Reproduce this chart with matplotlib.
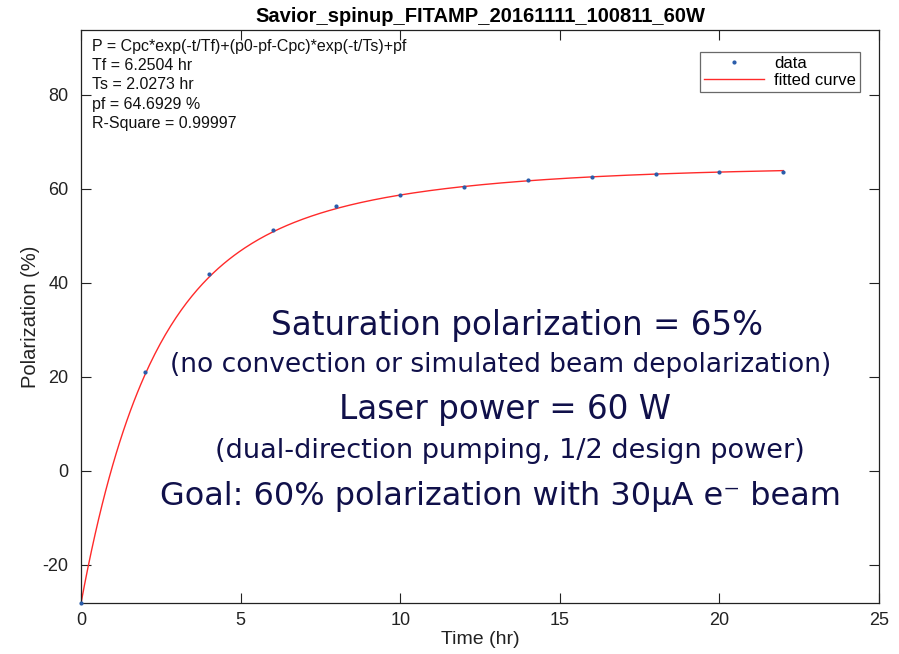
import numpy as np
import matplotlib
matplotlib.use("Agg")
import matplotlib.pyplot as plt

# ---- data ----
time_hr = [0, 2, 4, 6, 8, 10, 12, 14, 16, 18, 20, 22]
polarization = [-28.2, 21.0, 41.9, 51.2, 56.4, 58.7, 60.4, 61.8, 62.6, 63.2, 63.5, 63.6]

# fit parameters (shown on the chart / estimated)
Tf = 6.2504
Ts = 2.0273
pf = 64.6929
Cpc = -27.4
p0 = -28.2
r_square = 0.99997

title = "Savior_spinup_FITAMP_20161111_100811_60W"
xticks = [0, 5, 10, 15, 20, 25]
yticks = [-20, 0, 20, 40, 60, 80]

fit_lines = [
    "P = Cpc*exp(-t/Tf)+(p0-pf-Cpc)*exp(-t/Ts)+pf",
    f"Tf = {Tf:.4f} hr",
    f"Ts = {Ts:.4f} hr",
    f"pf = {pf:.4f} %",
    f"R-Square = {r_square}",
]
notes = [
    "Saturation polarization = 65%",
    "(no convection or simulated beam depolarization)",
    "Laser power = 60 W",
    "(dual-direction pumping, 1/2 design power)",
    "Goal: 60% polarization with 30\u03bcA e\u207b beam",
]

plt.rcParams['font.family'] = ['Liberation Sans', 'DejaVu Sans']
plt.rcParams['axes.unicode_minus'] = False

fig = plt.figure(figsize=(8.99, 6.54), dpi=100)
ax = fig.add_axes([0.0901, 0.0775, 0.8877, 0.8766])

t_fit = np.linspace(0, max(time_hr), 400)
p_fit = Cpc * np.exp(-t_fit / Tf) + (p0 - pf - Cpc) * np.exp(-t_fit / Ts) + pf

ax.plot(time_hr, polarization, linestyle='none', marker='.', markersize=4,
        color='#2a5caa', label='data', clip_on=False, zorder=3)
ax.plot(t_fit, p_fit, color='#ff2a2a', linewidth=1.0, label='fitted curve')

ax.set_xlim(0, 25)
ax.set_ylim(-28.2, 93.8)
ax.set_xticks(xticks)
ax.set_yticks(yticks)
ax.tick_params(direction='in', length=7, width=0.8, top=True, right=True,
               labelsize=13, colors='#222222')
ax.tick_params(axis='y', pad=9)
ax.tick_params(axis='x', pad=6)
for s in ax.spines.values():
    s.set_color('#222222')
    s.set_linewidth(0.9)

ax.set_xlabel("Time (hr)", fontsize=14, color='#222222', labelpad=2)
ax.set_ylabel("Polarization (%)", fontsize=14.5, color='#222222', labelpad=2)
ax.set_title(title, fontsize=14.5, fontweight='bold', pad=6)

leg = ax.legend(loc='upper right', bbox_to_anchor=(0.976, 0.962), fontsize=12,
                frameon=True, fancybox=False, edgecolor='#444444',
                handlelength=3.6, borderpad=0.25, labelspacing=0.1,
                handletextpad=0.6, borderaxespad=0.0)
leg.get_frame().set_linewidth(0.9)

ax.text(0.014, 0.985, "\n".join(fit_lines), transform=ax.transAxes,
        fontsize=11.5, va='top', ha='left', color='#111111', linespacing=1.36)

note_x = [0.546, 0.526, 0.531, 0.537, 0.526]
note_y = [0.484, 0.416, 0.338, 0.266, 0.186]
note_fs = [23.5, 19, 23.5, 19.5, 23]
for txt, xx, yy, fs in zip(notes, note_x, note_y, note_fs):
    ax.text(xx, yy, txt, transform=ax.transAxes, fontsize=fs,
            ha='center', va='center', color='#10104a',
            family=['DejaVu Sans'])

fig.savefig("out.png", dpi=100)
